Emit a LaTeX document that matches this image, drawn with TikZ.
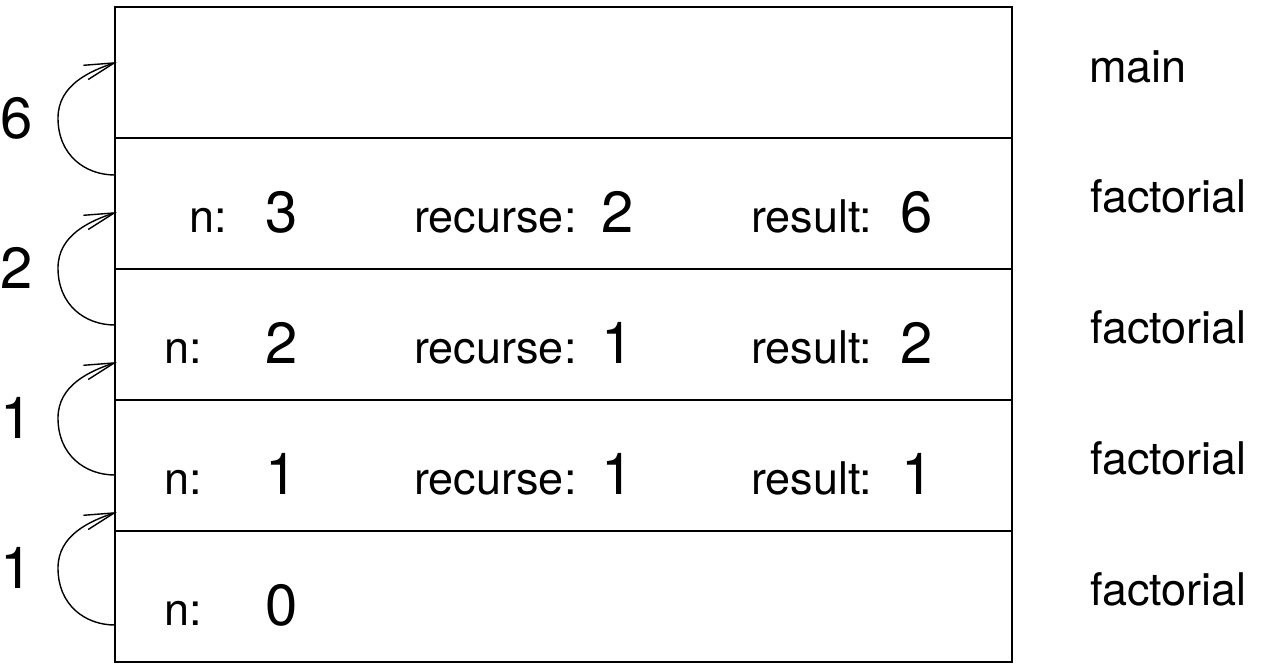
\documentclass[tikz,border=0pt]{standalone}
\usepackage{fontspec}
\setmainfont{TeX Gyre Heros}
\usetikzlibrary{arrows.meta}
\tikzset{
  frame/.style={draw, line width=2pt, minimum width=897pt, minimum height=131pt, inner sep=0pt},
  lbl/.style={anchor=base west, inner sep=0pt, font=\fontsize{45}{50}\selectfont},
  val/.style={anchor=base west, inner sep=0pt, font=\fontsize{58}{64}\selectfont},
  ret/.style={line width=1.4pt, -{Straight Barb[length=30pt,width=15pt,line width=1.4pt]}}
}
\begin{document}
\begin{tikzpicture}[x=1pt,y=-1pt]
\useasboundingbox (0,0) rectangle (1263,667);
% frames
\node[frame] (f1) at (563.5,72.5) {};
\node[frame] (f2) at (563.5,203.5) {};
\node[frame] (f3) at (563.5,334.5) {};
\node[frame] (f4) at (563.5,465.5) {};
\node[frame] (f5) at (563.5,596.5) {};
% frame names
\node[lbl] (m1) at (1089,82) {main};
\node[lbl] (m2) at (1090,212) {factorial};
\node[lbl] (m3) at (1090,343) {factorial};
\node[lbl] (m4) at (1090,474) {factorial};
\node[lbl] (m5) at (1090,605) {factorial};
% row 2
\node[lbl] (n2) at (189,232) {n:};
\node[val] (nv2) at (265,232) {3};
\node[lbl] (r2) at (414,232) {recurse:};
\node[val] (rv2) at (601,232) {2};
\node[lbl] (s2) at (751,232) {result:};
\node[val] (sv2) at (900,232) {6};
% row 3
\node[lbl] (n3) at (164,363) {n:};
\node[val] (nv3) at (265,363) {2};
\node[lbl] (r3) at (414,363) {recurse:};
\node[val] (rv3) at (601,363) {1};
\node[lbl] (s3) at (751,363) {result:};
\node[val] (sv3) at (900,363) {2};
% row 4
\node[lbl] (n4) at (164,494) {n:};
\node[val] (nv4) at (265,494) {1};
\node[lbl] (r4) at (414,494) {recurse:};
\node[val] (rv4) at (601,494) {1};
\node[lbl] (s4) at (751,494) {result:};
\node[val] (sv4) at (901,494) {1};
% row 5
\node[lbl] (n5) at (164,625) {n:};
\node[val] (nv5) at (265,625) {0};
% return values
\node[val] (v1) at (0,138) {6};
\node[val] (v2) at (0,288) {2};
\node[val] (v3) at (0,438) {1};
\node[val] (v4) at (0,588) {1};
% return arrows
\foreach \i in {0,1,2,3} {
  \coordinate (a\i) at (115,175+150*\i);
  \coordinate (c\i) at (58,118+150*\i);
  \coordinate (b\i) at (117,62+150*\i);
  \draw[ret] (a\i) .. controls (85,175+150*\i) and (58,155+150*\i) .. (c\i)
                   .. controls (58,85+150*\i) and (90,71+150*\i) .. (b\i);
}
\end{tikzpicture}
\end{document}
